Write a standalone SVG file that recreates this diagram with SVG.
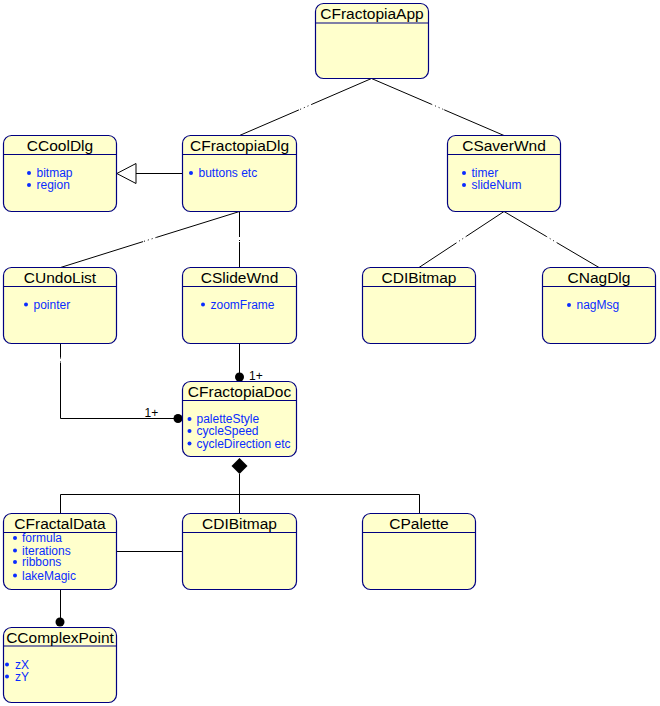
<svg xmlns="http://www.w3.org/2000/svg" width="660" height="706" viewBox="0 0 660 706">
<style>
.box{fill:#FFFFCC;stroke:#000080;stroke-width:1.2}
.hdr{stroke:#000080;stroke-width:1.2}
.ttl{font-family:"Liberation Sans",Arial,sans-serif;font-size:15.5px;fill:#000;text-anchor:middle}
.att{font-family:"Liberation Sans",Arial,sans-serif;font-size:12px;fill:#0a2cff}
.bul{fill:#0a2cff}
.ln{stroke:#000;stroke-width:1;fill:none}
.gap{stroke:#000;stroke-width:1;fill:none;stroke-dasharray:1 3}
.lbl{font-family:"Liberation Sans",Arial,sans-serif;font-size:12px;fill:#000}
</style>
<rect width="660" height="706" fill="#fff"/>
<g id="connectors">
<!-- App to Dlg -->
<line class="ln" x1="371.5" y1="78.5" x2="312.1" y2="104.2"/>
<line class="gap" x1="312.1" y1="104.2" x2="298.9" y2="109.9"/>
<line class="ln" x1="298.9" y1="109.9" x2="239.5" y2="135.5"/>
<!-- App to Saver -->
<line class="ln" x1="371.5" y1="78.5" x2="431.3" y2="104.2"/>
<line class="gap" x1="431.3" y1="104.2" x2="444.2" y2="109.8"/>
<line class="ln" x1="444.2" y1="109.8" x2="504" y2="135.5"/>
<!-- Dlg to Undo -->
<line class="ln" x1="239.5" y1="211.5" x2="156.4" y2="237.4"/>
<line class="gap" x1="156.4" y1="237.4" x2="143.1" y2="241.6"/>
<line class="ln" x1="143.1" y1="241.6" x2="60.5" y2="267.5"/>
<!-- Dlg to Slide -->
<line class="ln" x1="239.5" y1="211.5" x2="239.5" y2="236"/>
<line class="gap" x1="239.5" y1="236" x2="239.5" y2="242"/>
<line class="ln" x1="239.5" y1="242" x2="239.5" y2="267.5"/>
<!-- Saver to Bitmap -->
<line class="ln" x1="504" y1="211.5" x2="466.5" y2="236.2"/>
<line class="gap" x1="466.5" y1="236.2" x2="456.5" y2="242.8"/>
<line class="ln" x1="456.5" y1="242.8" x2="419" y2="267.5"/>
<!-- Saver to Nag -->
<line class="ln" x1="504" y1="211.5" x2="546.3" y2="236.4"/>
<line class="gap" x1="546.3" y1="236.4" x2="556.7" y2="242.6"/>
<line class="ln" x1="556.7" y1="242.6" x2="599" y2="267.5"/>
<!-- Inheritance Dlg to CoolDlg -->
<line class="ln" x1="136" y1="173.5" x2="182.5" y2="173.5"/>
<polygon points="116.8,173.5 136,163.5 136,183.5" fill="#fff" stroke="#000" stroke-width="1"/>
<!-- Slide to Doc -->
<line class="ln" x1="239.5" y1="343.5" x2="239.5" y2="377"/>
<circle cx="239.5" cy="377" r="4.5" fill="#000"/>
<text class="lbl" x="249" y="380">1+</text>
<!-- Undo to Doc -->
<line class="ln" x1="60.5" y1="343.5" x2="60.5" y2="357.5"/>
<line class="gap" x1="60.5" y1="357.5" x2="60.5" y2="363"/>
<polyline class="ln" points="60.5,363 60.5,418.5 178,418.5"/>
<circle cx="178" cy="418.5" r="4.5" fill="#000"/>
<text class="lbl" x="144.5" y="417">1+</text>
<!-- Composition -->
<polygon points="239.5,458 247.5,466 239.5,474 231.5,466" fill="#000"/>
<line class="ln" x1="239.5" y1="474" x2="239.5" y2="513.5"/>
<polyline class="ln" points="60.5,513.5 60.5,494.5 419.5,494.5 419.5,513.5"/>
<!-- FractalData to Bitmap -->
<line class="ln" x1="116.5" y1="551.5" x2="182.5" y2="551.5"/>
<!-- FractalData to ComplexPoint -->
<line class="ln" x1="60.5" y1="589.5" x2="60.5" y2="622"/>
<circle cx="60" cy="622" r="4.5" fill="#000"/>
</g>
<g id="CFractopiaApp">
<rect class="box" x="315.5" y="3.5" width="113" height="75" rx="8"/>
<line class="hdr" x1="315.5" y1="23" x2="428.5" y2="23"/>
<text class="ttl" x="372" y="18.5">CFractopiaApp</text>
</g>
<g id="CCoolDlg">
<rect class="box" x="3.5" y="135.5" width="113" height="76" rx="8"/>
<line class="hdr" x1="3.5" y1="154.5" x2="116.5" y2="154.5"/>
<text class="ttl" x="60" y="150.5">CCoolDlg</text>
<circle class="bul" cx="29" cy="173" r="2"/>
<text class="att" x="36.5" y="177">bitmap</text>
<circle class="bul" cx="29" cy="185" r="2"/>
<text class="att" x="36.5" y="189">region</text>
</g>
<g id="CFractopiaDlg">
<rect class="box" x="182.5" y="135.5" width="114" height="76" rx="8"/>
<line class="hdr" x1="182.5" y1="154.5" x2="296.5" y2="154.5"/>
<text class="ttl" x="239.5" y="150.5">CFractopiaDlg</text>
<circle class="bul" cx="191" cy="173" r="2"/>
<text class="att" x="198.5" y="177">buttons etc</text>
</g>
<g id="CSaverWnd">
<rect class="box" x="447.5" y="135.5" width="113" height="76" rx="8"/>
<line class="hdr" x1="447.5" y1="154.5" x2="560.5" y2="154.5"/>
<text class="ttl" x="504" y="150.5">CSaverWnd</text>
<circle class="bul" cx="464" cy="173" r="2"/>
<text class="att" x="471.5" y="177">timer</text>
<circle class="bul" cx="464" cy="185" r="2"/>
<text class="att" x="471.5" y="189">slideNum</text>
</g>
<g id="CUndoList">
<rect class="box" x="3.5" y="267.5" width="113" height="76" rx="8"/>
<line class="hdr" x1="3.5" y1="286.5" x2="116.5" y2="286.5"/>
<text class="ttl" x="60" y="282.5">CUndoList</text>
<circle class="bul" cx="26" cy="304.5" r="2"/>
<text class="att" x="33.5" y="308.5">pointer</text>
</g>
<g id="CSlideWnd">
<rect class="box" x="182.5" y="267.5" width="114" height="76" rx="8"/>
<line class="hdr" x1="182.5" y1="286.5" x2="296.5" y2="286.5"/>
<text class="ttl" x="239.5" y="282.5">CSlideWnd</text>
<circle class="bul" cx="203" cy="304.5" r="2"/>
<text class="att" x="210.5" y="308.5">zoomFrame</text>
</g>
<g id="CDIBitmap1">
<rect class="box" x="362.5" y="267.5" width="113" height="76" rx="8"/>
<line class="hdr" x1="362.5" y1="286.5" x2="475.5" y2="286.5"/>
<text class="ttl" x="419" y="282.5">CDIBitmap</text>
</g>
<g id="CNagDlg">
<rect class="box" x="542.5" y="267.5" width="113" height="76" rx="8"/>
<line class="hdr" x1="542.5" y1="286.5" x2="655.5" y2="286.5"/>
<text class="ttl" x="599" y="282.5">CNagDlg</text>
<circle class="bul" cx="569" cy="305" r="2"/>
<text class="att" x="576.5" y="309">nagMsg</text>
</g>
<g id="CFractopiaDoc">
<rect class="box" x="182.5" y="381.5" width="114" height="75" rx="8"/>
<line class="hdr" x1="182.5" y1="400.5" x2="296.5" y2="400.5"/>
<text class="ttl" x="239.5" y="396.5">CFractopiaDoc</text>
<circle class="bul" cx="189.5" cy="419" r="2"/>
<text class="att" x="196.5" y="423">paletteStyle</text>
<circle class="bul" cx="189.5" cy="431" r="2"/>
<text class="att" x="196.5" y="435">cycleSpeed</text>
<circle class="bul" cx="189.5" cy="443.5" r="2"/>
<text class="att" x="196.5" y="447.5">cycleDirection etc</text>
</g>
<g id="CFractalData">
<rect class="box" x="3.5" y="513.5" width="113" height="76" rx="8"/>
<line class="hdr" x1="3.5" y1="532.5" x2="116.5" y2="532.5"/>
<text class="ttl" x="60" y="528.5">CFractalData</text>
<circle class="bul" cx="15" cy="538" r="2"/>
<text class="att" x="22" y="542">formula</text>
<circle class="bul" cx="15" cy="550.5" r="2"/>
<text class="att" x="22" y="554.5">iterations</text>
<circle class="bul" cx="15" cy="562" r="2"/>
<text class="att" x="22" y="566">ribbons</text>
<circle class="bul" cx="15" cy="575.5" r="2"/>
<text class="att" x="22" y="579.5">lakeMagic</text>
</g>
<g id="CDIBitmap2">
<rect class="box" x="182.5" y="513.5" width="114" height="76" rx="8"/>
<line class="hdr" x1="182.5" y1="532.5" x2="296.5" y2="532.5"/>
<text class="ttl" x="239.5" y="528.5">CDIBitmap</text>
</g>
<g id="CPalette">
<rect class="box" x="362.5" y="513.5" width="113" height="76" rx="8"/>
<line class="hdr" x1="362.5" y1="532.5" x2="475.5" y2="532.5"/>
<text class="ttl" x="419" y="528.5">CPalette</text>
</g>
<g id="CComplexPoint">
<rect class="box" x="3.5" y="627.5" width="113" height="75" rx="8"/>
<line class="hdr" x1="3.5" y1="646" x2="116.5" y2="646"/>
<text class="ttl" x="60" y="642.5">CComplexPoint</text>
<circle class="bul" cx="7" cy="664.5" r="2"/>
<text class="att" x="15" y="668.5">zX</text>
<circle class="bul" cx="7" cy="676.5" r="2"/>
<text class="att" x="15" y="680.5">zY</text>
</g>
</svg>
